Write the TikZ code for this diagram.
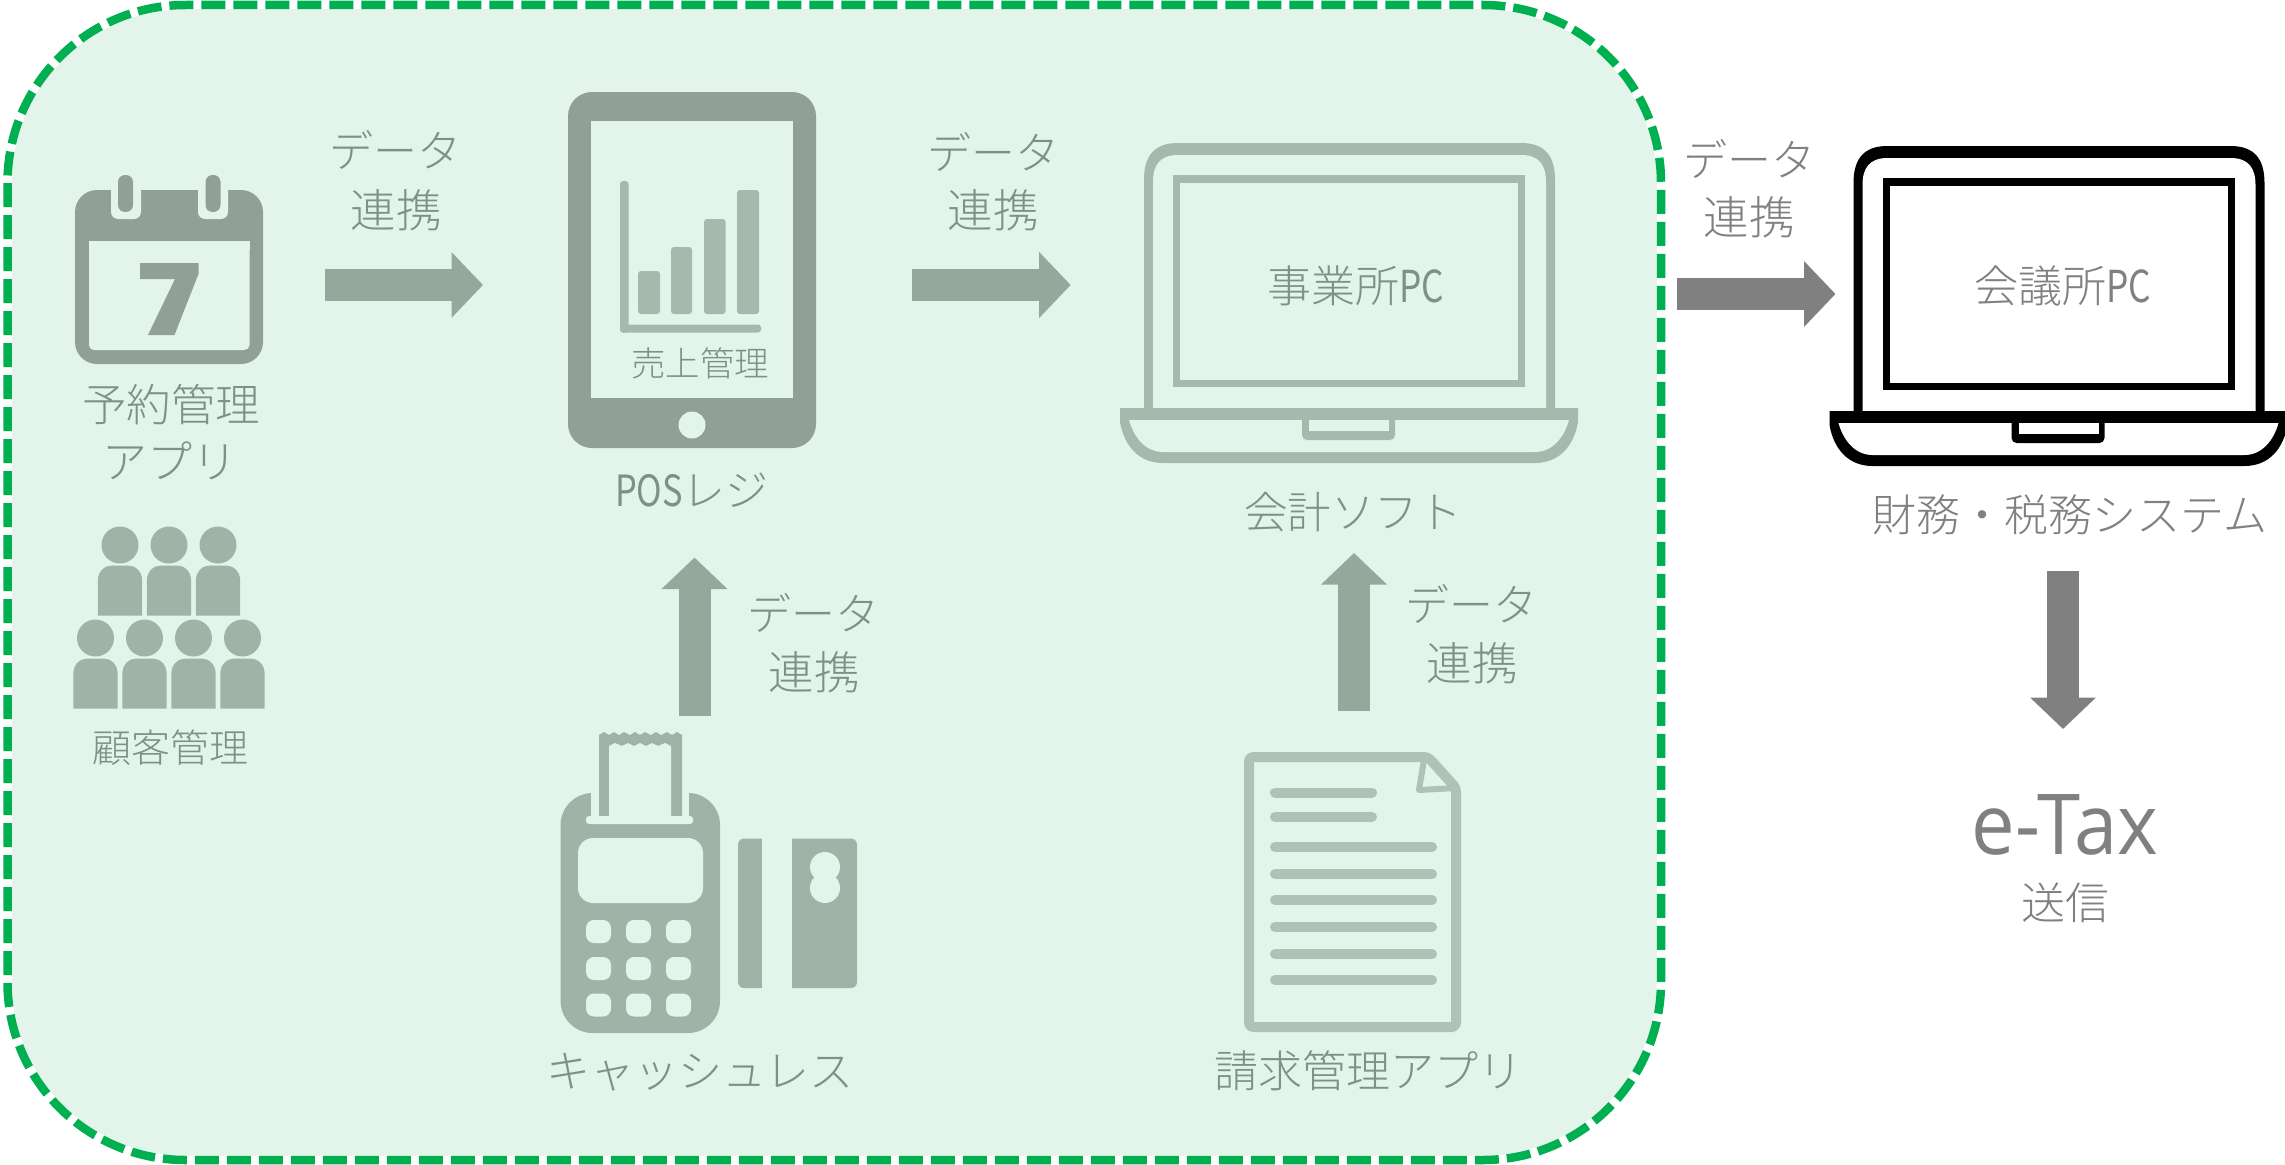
\documentclass[tikz,border=0pt]{standalone}
\usepackage{fontspec}
\usetikzlibrary{arrows.meta}
\IfFontExistsTF{Noto Sans CJK JP Light}{%
\setmainfont{Noto Sans CJK JP Light}}{%
\setmainfont{Noto Sans CJK JP}}
\newfontfamily\condfont[FakeStretch=0.8]{Noto Sans CJK JP}
\newfontfamily\etaxfont[FakeStretch=0.925]{Open Sans}
\definecolor{framefill}{HTML}{E3F4EA}
\definecolor{framegreen}{HTML}{00B050}
\definecolor{icondark}{HTML}{91A096}
\definecolor{iconmid}{HTML}{A1B2A7}
\definecolor{iconlight}{HTML}{A6B9AD}
\definecolor{iconpale}{HTML}{B0C2B6}
\definecolor{arrowgreen}{HTML}{96A89C}
\definecolor{greytext}{HTML}{808080}
\definecolor{softtext}{HTML}{7F9186}
\tikzset{
  lbl/.style={font=\fontsize{#1}{#1}\selectfont,inner sep=0pt,align=center,
     text height=#1*0.84pt,text depth=#1*0.16pt,yshift=-2pt},
  boxtext/.style={text=softtext},
  outtext/.style={text=greytext},
  blockarrow/.style={line width=32pt,draw=#1,
     -{Triangle[length=31.5pt 0 0,width=64pt 0 0,fill=#1]}},
}
\newcommand{\laptopicon}[3]{%
  \begin{scope}[shift={(#1)}]
    \fill[#2] (1144,410) -- (1144,180) .. controls (1144,155) and (1155,143) .. (1178,143)
       -- (1521,143) .. controls (1544,143) and (1555,155) .. (1555,180) -- (1555,410) -- cycle;
    \fill[#3] (1153,410) -- (1153,182) .. controls (1153,165) and (1160,155) .. (1178,155)
       -- (1521,155) .. controls (1539,155) and (1546,165) .. (1546,182) -- (1546,410) -- cycle;
    \draw[#2,line width=7pt] (1176.5,179) rectangle (1521.5,383.5);
    \fill[#2] (1173,175) rectangle (1525,183);
    \fill[#2] (1120,408) -- (1578,408) -- (1578,422) .. controls (1574,445) and (1560,463) .. (1535,463)
       -- (1163,463) .. controls (1138,463) and (1124,445) .. (1120,422) -- cycle;
    \fill[#3] (1129,420) -- (1569,420) .. controls (1564,438) and (1552,452) .. (1535,452)
       -- (1163,452) .. controls (1146,452) and (1134,438) .. (1129,420) -- cycle;
    \fill[#2,rounded corners=5pt] (1302,415) rectangle (1395,440);
    \fill[#3] (1309,420) rectangle (1389,431);
  \end{scope}}
\newcommand{\personicon}[2]{%
  \fill[iconmid] (#1,#2) circle[radius=18.5pt];
  \fill[iconmid] (#1-22.2,#2+70.5) -- (#1-22.2,#2+36) .. controls (#1-22.2,#2+26) and (#1-15,#2+20.5) .. (#1-8,#2+20.5)
    -- (#1+8,#2+20.5) .. controls (#1+15,#2+20.5) and (#1+22.2,#2+26) .. (#1+22.2,#2+36) -- (#1+22.2,#2+70.5) -- cycle;}
\begin{document}
\begin{tikzpicture}[x=1pt,y=-1pt]
\useasboundingbox (0,0) rectangle (2285,1164);
\begin{scope}
\clip (0,0) rectangle (2285,1164);
% frame
\draw[white,fill=framefill,line width=8.5pt,rounded corners=178pt]
  (7.5,5) rectangle (1661,1160);
\draw[framegreen,line width=8.5pt,dash pattern=on 24pt off 8pt,rounded corners=178pt]
  (7.5,5) rectangle (1661,1160);
% calendar
\fill[icondark,rounded corners=22pt] (75,190) rectangle (263,364);
\fill[framefill,rounded corners=5pt] (89,241) rectangle (249.5,350);
\fill[framefill] (89,241) rectangle (249.5,250);
\fill[framefill,rounded corners=7pt] (111,180) rectangle (141,219);
\fill[framefill,rounded corners=7pt] (198,180) rectangle (228,219);
\fill[framefill] (111,180) rectangle (141,190);
\fill[framefill] (198,180) rectangle (228,190);
\fill[icondark,rounded corners=7pt] (118,175) rectangle (133,212);
\fill[icondark,rounded corners=7pt] (205.5,175) rectangle (220.5,212);
\fill[icondark] (140,263) -- (198.5,263) -- (198.5,274) -- (174.5,335) -- (148,335) -- (175,279) -- (140,279) -- cycle;
% people
\personicon{120}{545}\personicon{169}{545}\personicon{218}{545}
\personicon{95.5}{638}\personicon{144.5}{638}\personicon{193.5}{638}\personicon{242.5}{638}
% tablet
\fill[icondark,rounded corners=24pt] (568,92) rectangle (816,448);
\fill[framefill] (591,121) rectangle (793,398);
\fill[framefill] (692,425) circle[radius=13.5pt];
\fill[iconlight,rounded corners=3pt] (620,181) rectangle (628.5,332.5);
\fill[iconlight,rounded corners=3pt] (620,324.5) rectangle (761,332.5);
\fill[iconlight,rounded corners=3pt] (638,271) rectangle (660,314);
\fill[iconlight,rounded corners=3pt] (671,247) rectangle (692,314);
\fill[iconlight,rounded corners=3pt] (704,219) rectangle (725.5,314);
\fill[iconlight,rounded corners=3pt] (737,190) rectangle (759,314);
% payment terminal
\fill[iconmid,rounded corners=32pt] (560.6,793) rectangle (720,1033);
\fill[framefill] (591,785) rectangle (689.4,824);
\fill[iconmid] (599,735) -- (604,732) -- (609,735) -- (614,732) -- (619,735) -- (624,732) -- (630,735) -- (635,732) -- (640,735) -- (645,732) -- (651,735) -- (656,732) -- (661,735) -- (667,732) -- (672,735) -- (677,732) -- (682,735) -- (682,818) -- (599,818) -- cycle;
\fill[framefill] (609,746) -- (615,743) -- (622,746) -- (628,743) -- (634,746) -- (640,743) -- (646,746) -- (652,743) -- (658,746) -- (665,743) -- (671,746) -- (671,818) -- (609,818) -- cycle;
\fill[framefill,rounded corners=3pt] (586,816) rectangle (693,824);
\fill[framefill,rounded corners=15pt] (578,838) rectangle (703,903);
\foreach \kx in {586,626,666}{\foreach \ky in {920,957,993.5}{
  \fill[framefill,rounded corners=8pt] (\kx,\ky) rectangle (\kx+25,\ky+23);}}
% card
\fill[iconmid,rounded corners=6pt] (738,838.5) rectangle (770,988);
\fill[framefill] (762,830) rectangle (775,995);
\fill[iconmid,rounded corners=6pt] (784,838.5) rectangle (857,988);
\fill[framefill] (780,830) rectangle (792,995);
\fill[framefill] (825,867) ellipse[x radius=15pt,y radius=15pt];
\fill[framefill] (825,888) ellipse[x radius=15pt,y radius=15pt];
% document
\draw[iconpale,line width=10pt,rounded corners=4pt,line join=round]
  (1249,757) -- (1428,757) -- (1456,788) -- (1456,1027) -- (1249,1027) -- cycle;
\draw[iconpale,line width=6pt,line join=round] (1424,760) -- (1419,790) -- (1456,788);
\foreach \ly in {792.5,817}{\draw[iconpale,line width=10pt,line cap=round] (1275,\ly) -- (1372,\ly);}
\foreach \ly in {847,874,900,927,954,980}{\draw[iconpale,line width=10pt,line cap=round] (1275,\ly) -- (1432,\ly);}
% laptops
\laptopicon{0,0}{iconlight}{framefill}
\laptopicon{709.5,3}{black}{white}
\end{scope}
% connector ends
\coordinate (a1s) at (324.5,285); \coordinate (a1e) at (483,285);
\coordinate (a2s) at (912,285); \coordinate (a2e) at (1070.7,285);
\coordinate (a3s) at (694.5,716); \coordinate (a3e) at (694.5,557.5);
\coordinate (a4s) at (1354,711); \coordinate (a4e) at (1354,553);
\coordinate (a5s) at (1677,294); \coordinate (a5e) at (1835.5,294);
\coordinate (a6s) at (2063,571); \coordinate (a6e) at (2063,729);
\draw[blockarrow=arrowgreen] (a1s) -- (a1e);
\draw[blockarrow=arrowgreen] (a2s) -- (a2e);
\draw[blockarrow=arrowgreen] (a3s) -- (a3e);
\draw[blockarrow=arrowgreen] (a4s) -- (a4e);
\draw[blockarrow=greytext] (a5s) -- (a5e);
\draw[blockarrow=greytext] (a6s) -- (a6e);
% labels
\node[lbl=44,boxtext] (l1a) at (395,151) {データ};
\node[lbl=45.5,boxtext] (l1b) at (396,210) {連携};
\node[lbl=44,boxtext] (l2a) at (993,153) {データ};
\node[lbl=45.5,boxtext] (l2b) at (993,210) {連携};
\node[lbl=44,boxtext] (l3a) at (813,614) {データ};
\node[lbl=45.5,boxtext] (l3b) at (814,672) {連携};
\node[lbl=44,boxtext] (l4a) at (1471,605) {データ};
\node[lbl=45.5,boxtext] (l4b) at (1472,663) {連携};
\node[lbl=44,outtext] (l5a) at (1749,160) {データ};
\node[lbl=45.5,outtext] (l5b) at (1749,217) {連携};
\node[lbl=44.5,boxtext] (cal) at (171,404) {予約管理};
\node[lbl=45,boxtext] (cal2) at (170,461) {アプリ};
\node[lbl=39,boxtext] (cust) at (170,747) {顧客管理};
\node[lbl=34.5,boxtext] (sales) at (700,363) {売上管理};
\node[lbl=43,boxtext] (pos) at (692,490) {{\condfont POS}レジ};
\node[lbl=44,boxtext] (cash) at (700,1071) {キャッシュレス};
\node[lbl=44,boxtext] (bill) at (1368,1071) {請求管理アプリ};
\node[lbl=44,boxtext] (pc1) at (1356,286) {事業所{\condfont PC}};
\node[lbl=43.5,boxtext] (soft) at (1353,512) {会計ソフト};
\node[lbl=44,outtext] (pc2) at (2063,286) {会議所{\condfont PC}};
\node[lbl=44,outtext] (fin) at (2070,515) {財務・税務システム};
\node[inner sep=0pt,text=greytext,font={\fontsize{84}{84}\selectfont\etaxfont}] (etax) at (2065,825) {e-Tax};
\node[lbl=44,outtext] (send) at (2065,903) {送信};
\end{tikzpicture}
\end{document}
